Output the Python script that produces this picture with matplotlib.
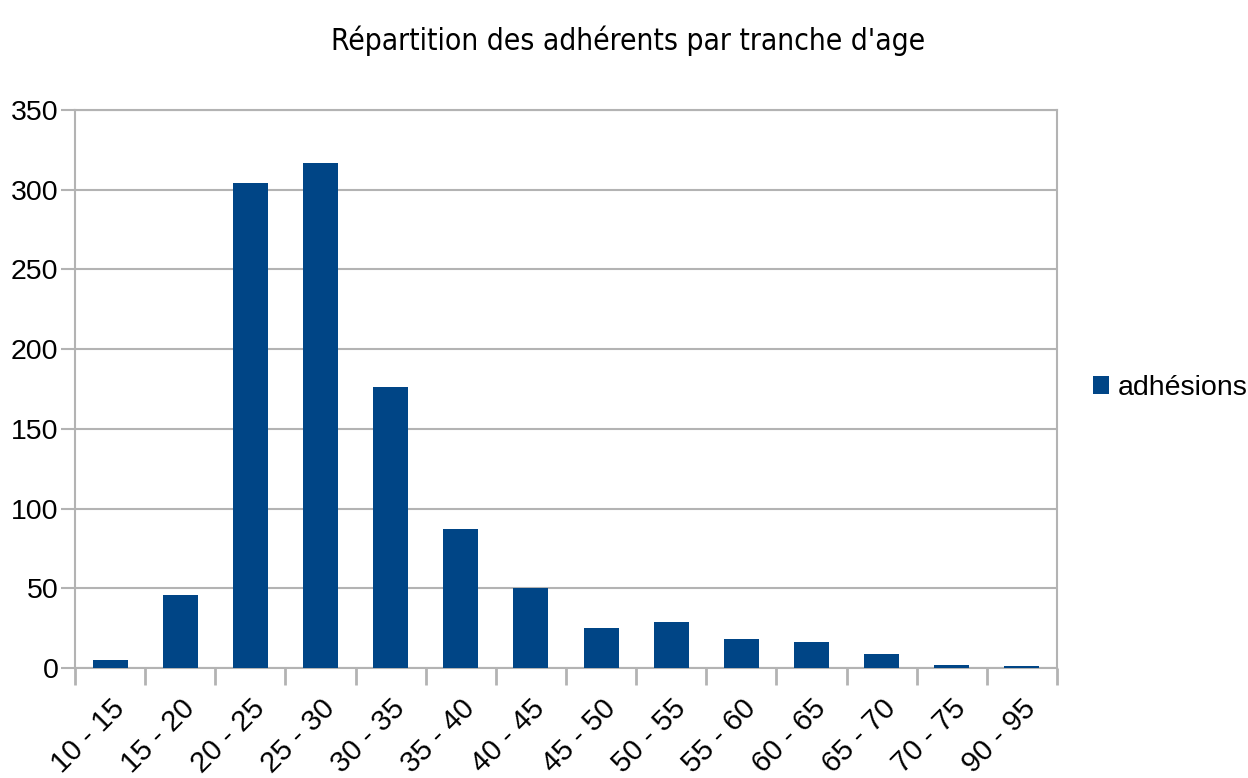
import numpy as np
import matplotlib.pyplot as plt

# Data
tranches = ["10 - 15", "15 - 20", "20 - 25", "25 - 30", "30 - 35", "35 - 40", "40 - 45",
            "45 - 50", "50 - 55", "55 - 60", "60 - 65", "65 - 70", "70 - 75", "90 - 95"]
adhesions = [5, 46, 304, 317, 176, 87, 50, 25, 29, 18, 16, 9, 2, 1]

bar_color = "#004586"
grid_color = "#b3b3b3"

plt.rcParams['font.family'] = ['Liberation Sans', 'DejaVu Sans']

fig = plt.figure(figsize=(12.48, 7.78), dpi=100)
ax = fig.add_axes([75/1248, 110/778, (1057-75)/1248, (668-110)/778])

x = np.arange(len(tranches))
ax.bar(x, adhesions, width=0.5, color=bar_color, label="adhésions", zorder=3)

ax.set_xlim(-0.5, len(tranches) - 0.5)
ax.set_ylim(0, 350)
ax.set_yticks(np.arange(0, 351, 50))
ax.yaxis.grid(True, color=grid_color, linewidth=1.5, zorder=0)
ax.tick_params(axis='y', length=10, width=1.5, color=grid_color, labelsize=20.5, pad=2)

# category boundary ticks
ax.set_xticks(np.arange(-0.5, len(tranches) + 0.5, 1.0))
ax.set_xticklabels([])
ax.set_xticks(x, minor=True)
ax.set_xticklabels(tranches, minor=True, rotation=45, ha='right', rotation_mode='anchor', fontsize=21)
ax.tick_params(axis='x', which='major', length=12, width=2, color=grid_color)
ax.tick_params(axis='x', which='minor', length=0, pad=19)

for s in ax.spines.values():
    s.set_color(grid_color)
    s.set_linewidth(1.5)

fig.text(0.503, 0.947, "Répartition des adhérents par tranche d'age", ha='center', va='center',
         fontsize=21.5, family='DejaVu Sans', fontstretch='condensed', fontweight='medium')

fig.legend(loc='center left', bbox_to_anchor=(1082/1248, 1 - 388/778), frameon=False,
           fontsize=20.5, handlelength=0.55, handleheight=0.55, handletextpad=0.3,
           borderaxespad=0)

fig.savefig("out.png", dpi=100)
